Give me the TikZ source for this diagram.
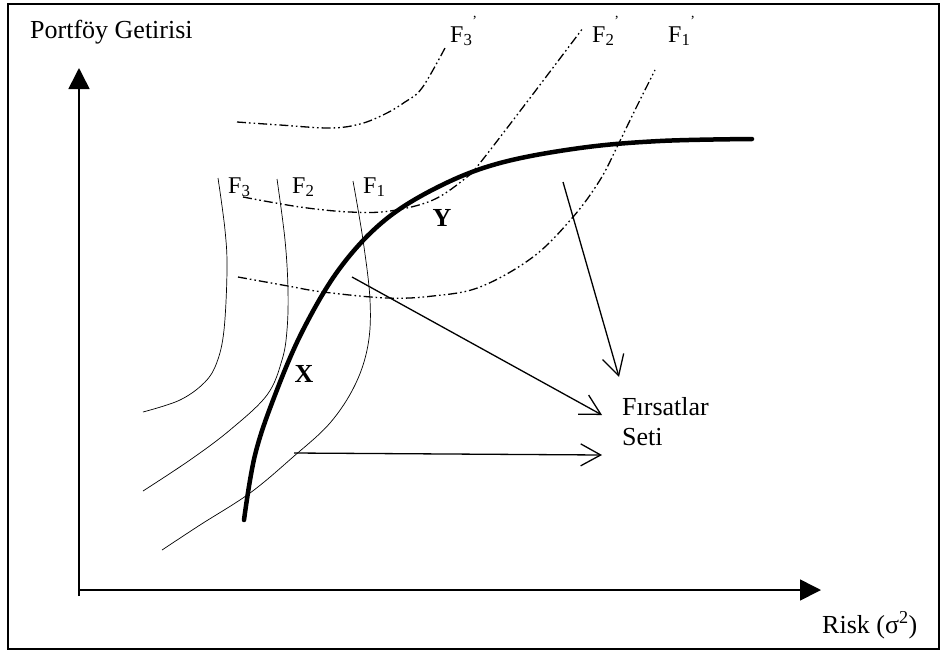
\documentclass[tikz,border=0pt]{standalone}
\usepackage{fontspec}
\setmainfont{Liberation Serif}
\usetikzlibrary{arrows.meta}
\tikzset{
  frontier/.style={line width=4.5pt, line cap=round},
  icurve/.style={line width=0.7pt},
  dcurve/.style={line width=1.3pt, dash pattern=on 9pt off 3pt on 1.6pt off 3pt on 1.6pt off 3pt},
  axis/.style={line width=1.6pt, -{Triangle[length=21pt,width=21pt]}},
  pointer/.style={line width=1.3pt, -{Straight Barb[length=20pt,width=22pt,line width=1.3pt]}},
  lbl/.style={inner sep=0pt, anchor=base west, font=\fontsize{26}{30}\selectfont},
  flbl/.style={inner sep=0pt, anchor=base west, font=\fontsize{24}{28}\selectfont},
  pt/.style={inner sep=0pt, font=\fontsize{26}{30}\selectfont\bfseries}
}
\newcommand{\myprime}{\raisebox{0.7em}{\fontsize{14}{14}\selectfont'}}
\begin{document}
\begin{tikzpicture}[x=1pt,y=-1pt]
\useasboundingbox (0,0) rectangle (942,654);
% frame
\draw[line width=1.5pt] (8,4) rectangle (939,649);
% axes
\coordinate (O) at (79,590);
\coordinate (ytop) at (79,68);
\coordinate (xend) at (821,590);
\coordinate (ybot) at (79,596);
\draw[line width=1.6pt] (ybot) -- (O);
\draw[axis] (O) -- (ytop);
\draw[axis] (O) -- (xend);
\node[lbl] (ylab) at (30,38) {Portföy Getirisi};
\node[lbl] (xlab) at (822,633) {Risk (σ\textsuperscript{2})};
% indifference curves (solid)
\draw[icurve] plot[smooth, tension=0.6] coordinates {(218,178) (225,230) (227,270) (224,330) (217,362) (205,382) (180,400) (143,412)};
\draw[icurve] plot[smooth, tension=0.6] coordinates {(277,179) (285,240) (288,290) (287,330) (282,360) (267,395) (230,430) (190,460) (143,491)};
\draw[icurve] plot[smooth, tension=0.6] coordinates {(353,181) (363,240) (370,300) (368,345) (355,385) (330,423) (293,457) (250,493) (200,525) (162,550)};
\node[flbl] (F3) at (228,193) {F\textsubscript{3}};
\node[flbl] (F2) at (292,193) {F\textsubscript{2}};
\node[flbl] (F1) at (363,193) {F\textsubscript{1}};
% indifference curves (dash-dot)
\draw[dcurve] plot[smooth, tension=0.6] coordinates {(237,122) (280,125) (330,128) (360,124) (385,114) (405,102) (422,88) (445,48)};
\draw[dcurve] plot[smooth, tension=0.6] coordinates {(243,197) (300,207) (350,212) (390,211) (433,200) (467,177) (480,163) (530,98) (583,28)};
\draw[dcurve] plot[smooth, tension=0.6] coordinates {(238,277) (288,286) (323,292) (387,298) (433,296) (480,287) (533,257) (573,217) (600,180) (617,147) (635,110) (655,70)};
\node[flbl] (F3p) at (450,42) {F\textsubscript{3}\myprime};
\node[flbl] (F2p) at (592,42) {F\textsubscript{2}\myprime};
\node[flbl] (F1p) at (668,42) {F\textsubscript{1}\myprime};
% efficient frontier
\draw[frontier] plot[smooth, tension=0.6] coordinates {(244,520) (255,455) (275,395) (303,330) (340,268) (385,220) (440,186) (500,163) (580,148) (660,141) (752,139)};
\node[pt] (X) at (304,374) {X};
\node[pt] (Y) at (442,218) {Y};
% opportunity set
\node[lbl] (fs) at (622,415) {Fırsatlar};
\node[lbl] (seti) at (622,445) {Seti};
\coordinate (a1s) at (352,277);
\coordinate (a1e) at (602,415);
\coordinate (a2s) at (563,182);
\coordinate (a2e) at (619,377);
\coordinate (a3s) at (294,453);
\coordinate (a3e) at (602,455);
\draw[pointer] (a1s) -- (a1e);
\draw[pointer] (a2s) -- (a2e);
\draw[pointer] (a3s) -- (a3e);
\end{tikzpicture}
\end{document}
